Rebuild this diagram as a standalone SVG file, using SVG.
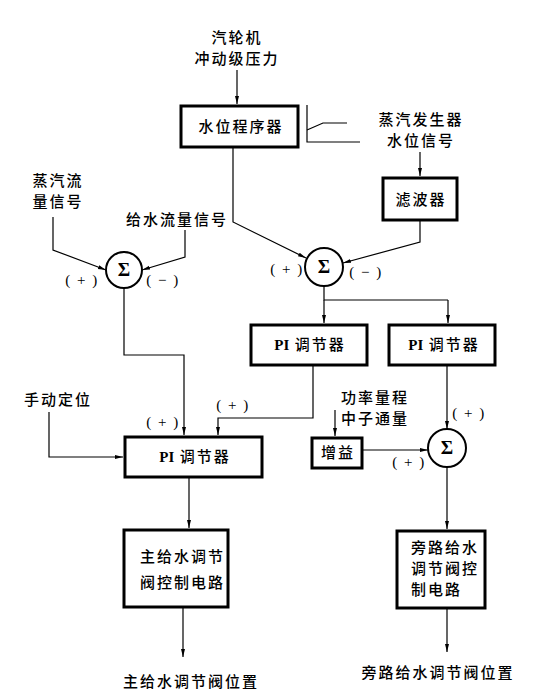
<svg xmlns="http://www.w3.org/2000/svg" width="538" height="693" viewBox="0 0 538 693">
<defs>
<marker id="ah" markerUnits="userSpaceOnUse" markerWidth="10" markerHeight="8" refX="8" refY="3" orient="auto">
<path d="M0,1 L8,3 L0,5 Z" fill="#000"/>
</marker>
<style>
.box{fill:#fff;stroke:#000;stroke-width:3}
.sum{fill:#fff;stroke:#000;stroke-width:2}
.ln{fill:none;stroke:#000;stroke-width:1.2}
.ar{fill:none;stroke:#000;stroke-width:1.2;marker-end:url(#ah)}
.t{font-family:"Noto Sans CJK SC","Noto Sans CJK JP",sans-serif;font-size:15px;font-weight:500;fill:#000;letter-spacing:2px}
.c{text-anchor:middle}
.s{font-family:"Liberation Serif",serif;font-size:15px;text-anchor:middle;fill:#000;letter-spacing:1.5px}
.sig{font-family:"Liberation Serif",serif;font-size:19px;font-weight:bold;text-anchor:middle;fill:#000}
.pi{font-family:"Liberation Serif",serif;font-weight:bold;letter-spacing:0}
</style>
</defs>
<rect width="538" height="693" fill="#fff"/>
<g id="connectors">
<path class="ar" d="M237,70 V104"/>
<path class="ar" d="M233,147 V222 L306,258"/>
<path class="ln" d="M307,105 V142 H360"/>
<path class="ln" d="M307,130 L323,123 H347"/>
<path class="ar" d="M420,152 V176"/>
<path class="ar" d="M420,220 V242 L343,263"/>
<path class="ar" d="M53,217 V250 L106,270"/>
<path class="ar" d="M185,230 V257 L142,270"/>
<path class="ar" d="M124,288 V355 H184 V435"/>
<path class="ln" d="M324,286 V300 H448"/>
<path class="ar" d="M324,300 V323"/>
<path class="ar" d="M448,300 V323"/>
<path class="ar" d="M313,365 V418 H218 V435"/>
<path class="ar" d="M49,412 V457 H123"/>
<path class="ar" d="M447,365 V429"/>
<path class="ar" d="M335,410 V436"/>
<path class="ar" d="M362,450 H428"/>
<path class="ar" d="M447,467 V529"/>
<path class="ar" d="M189,477 V528"/>
<path class="ar" d="M183,607 V657"/>
<path class="ar" d="M447,608 V652"/>
</g>
<g id="lbl-turbine"><text class="t c" x="237" y="43">汽轮机</text><text class="t c" x="237" y="64">冲动级压力</text></g>
<g id="n-program"><rect class="box" x="181" y="106" width="117" height="41"/><text class="t c" x="241" y="132">水位程序器</text></g>
<g id="lbl-sglevel"><text class="t c" x="421" y="125">蒸汽发生器</text><text class="t c" x="421" y="146">水位信号</text></g>
<g id="n-filter"><rect class="box" x="383" y="178" width="74" height="42"/><text class="t c" x="421" y="205">滤波器</text></g>
<g id="lbl-steam"><text class="t c" x="58" y="186">蒸汽流</text><text class="t c" x="58" y="207">量信号</text></g>
<g id="lbl-feed"><text class="t c" x="177" y="225">给水流量信号</text></g>
<g id="n-sum1"><circle class="sum" cx="124" cy="270" r="18"/><text class="sig" x="124" y="276">Σ</text><text class="s" x="82" y="285">( + )</text><text class="s" x="163" y="285">( − )</text></g>
<g id="n-sum2"><circle class="sum" cx="324" cy="267" r="19"/><text class="sig" x="324" y="273">Σ</text><text class="s" x="287" y="274">( + )</text><text class="s" x="366" y="277">( − )</text></g>
<g id="n-pi1"><rect class="box" x="251" y="325" width="116" height="40"/><text class="t c" x="310" y="350"><tspan class="pi">PI</tspan> 调节器</text></g>
<g id="n-pi2"><rect class="box" x="389" y="325" width="106" height="40"/><text class="t c" x="444" y="350"><tspan class="pi">PI</tspan> 调节器</text></g>
<g id="lbl-manual"><text class="t c" x="58" y="405">手动定位</text></g>
<g id="n-pimain"><rect class="box" x="125" y="437" width="137" height="40"/><text class="t c" x="195" y="462"><tspan class="pi">PI</tspan> 调节器</text><text class="s" x="163" y="427">( + )</text><text class="s" x="233" y="410">( + )</text></g>
<g id="lbl-neutron"><text class="t c" x="375" y="403">功率量程</text><text class="t c" x="375" y="424">中子通量</text></g>
<g id="n-gain"><rect class="box" x="312" y="438" width="50" height="30"/><text class="t c" x="338" y="458">增益</text></g>
<g id="n-sum3"><circle class="sum" cx="447" cy="448" r="19"/><text class="sig" x="447" y="454">Σ</text><text class="s" x="469" y="418">( + )</text><text class="s" x="409" y="467">( + )</text></g>
<g id="n-mainctrl"><rect class="box" x="124" y="530" width="104" height="77"/><text class="t" x="140" y="562">主给水调节</text><text class="t" x="140" y="588">阀控制电路</text></g>
<g id="n-bypassctrl"><rect class="box" x="397" y="531" width="88" height="77"/><text class="t" x="411" y="553">旁路给水</text><text class="t" x="411" y="574">调节阀控</text><text class="t" x="411" y="595">制电路</text></g>
<g id="lbl-mainpos"><text class="t c" x="191" y="687">主给水调节阀位置</text></g>
<g id="lbl-bypasspos"><text class="t c" x="438" y="678">旁路给水调节阀位置</text></g>
</svg>
